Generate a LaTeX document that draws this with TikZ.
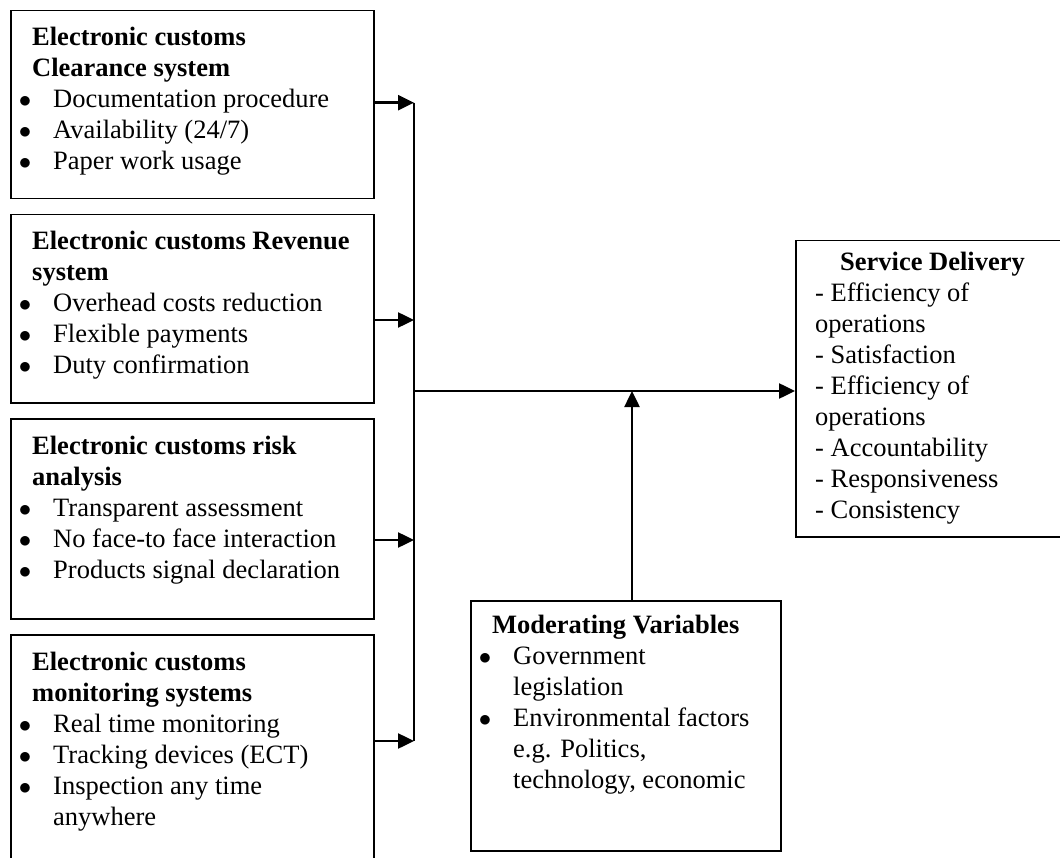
\documentclass[tikz,border=0pt]{standalone}
\usepackage{fontspec}
\setmainfont{Liberation Serif}
\usetikzlibrary{arrows.meta}
\newcommand\bul{\hspace*{21pt}\llap{$\bullet$\hspace{22pt}}}
\newcommand\ind{\hspace*{21pt}}
\begin{document}
\begin{tikzpicture}[x=1pt,y=-1pt,
  box/.style={draw,line width=1.5pt,inner sep=0pt,anchor=north west},
  txt/.style={anchor=base west,inner sep=0pt,font=\fontsize{26.5}{31}\selectfont},
  conn/.style={line width=2.5pt},
  arr/.style={conn,-{Triangle[length=16pt,width=15pt]}}]
\useasboundingbox (0,0) rectangle (1060,858);
\clip (0,0) rectangle (1060,858);
\fill[white] (0,0) rectangle (1060,858);

% boxes
\node[box,minimum width=363pt,minimum height=188pt] (b1) at (10,10) {};
\node[box,minimum width=363pt,minimum height=188pt] (b2) at (10,214) {};
\node[box,minimum width=363pt,minimum height=200pt] (b3) at (10,418) {};
\node[box,minimum width=363pt,minimum height=240pt] (b4) at (10,634) {};
\node[box,minimum width=275pt,minimum height=296pt] (sd) at (795,240) {};
\node[box,minimum width=310pt,minimum height=250pt] (mv) at (470,600) {};

% texts
\node[txt] (t1) at (32,46) {\begin{tabular}[t]{@{}l@{}}
\textbf{Electronic customs}\\
\textbf{Clearance system}\\
\bul Documentation procedure\\
\bul Availability (24/7)\\
\bul Paper work usage
\end{tabular}};
\node[txt] (t2) at (32,250) {\begin{tabular}[t]{@{}l@{}}
\textbf{Electronic customs Revenue}\\
\textbf{system}\\
\bul Overhead costs reduction\\
\bul Flexible payments\\
\bul Duty confirmation
\end{tabular}};
\node[txt] (t3) at (32,454) {\begin{tabular}[t]{@{}l@{}}
\textbf{Electronic customs risk}\\
\textbf{analysis}\\
\bul Transparent assessment\\
\bul No face-to face interaction\\
\bul Products signal declaration
\end{tabular}};
\node[txt] (t4) at (32,670) {\begin{tabular}[t]{@{}l@{}}
\textbf{Electronic customs}\\
\textbf{monitoring systems}\\
\bul Real time monitoring\\
\bul Tracking devices (ECT)\\
\bul Inspection any time\\
\ind anywhere
\end{tabular}};
\node[txt] (t5) at (815,271) {\begin{tabular}[t]{@{}l@{}}
\hspace*{25pt}\textbf{Service Delivery}\\
- Efficiency of\\
operations\\
- Satisfaction\\
- Efficiency of\\
operations\\
- Accountability\\
- Responsiveness\\
- Consistency
\end{tabular}};
\node[txt] (t6) at (492,633) {\begin{tabular}[t]{@{}l@{}}
\textbf{Moderating Variables}\\
\bul Government\\
\ind legislation\\
\bul Environmental factors\\
\ind e.g. Politics,\\
\ind technology, economic
\end{tabular}};

% connectors
\coordinate (j1) at (414,102.7);
\coordinate (j2) at (414,320);
\coordinate (j3) at (414,540);
\coordinate (j4) at (414,741);
\coordinate (jm) at (414,391);
\coordinate (up) at (632,391);
\draw[conn] (j1) -- (j4);
\draw[arr] (b1.east |- j1) -- (j1);
\draw[arr] (b2.east |- j2) -- (j2);
\draw[arr] (b3.east |- j3) -- (j3);
\draw[arr] (b4.east |- j4) -- (j4);
\draw[arr] (jm) -- (sd.west |- jm);
\draw[arr] (mv.north -| up) -- (up);
\end{tikzpicture}
\end{document}
